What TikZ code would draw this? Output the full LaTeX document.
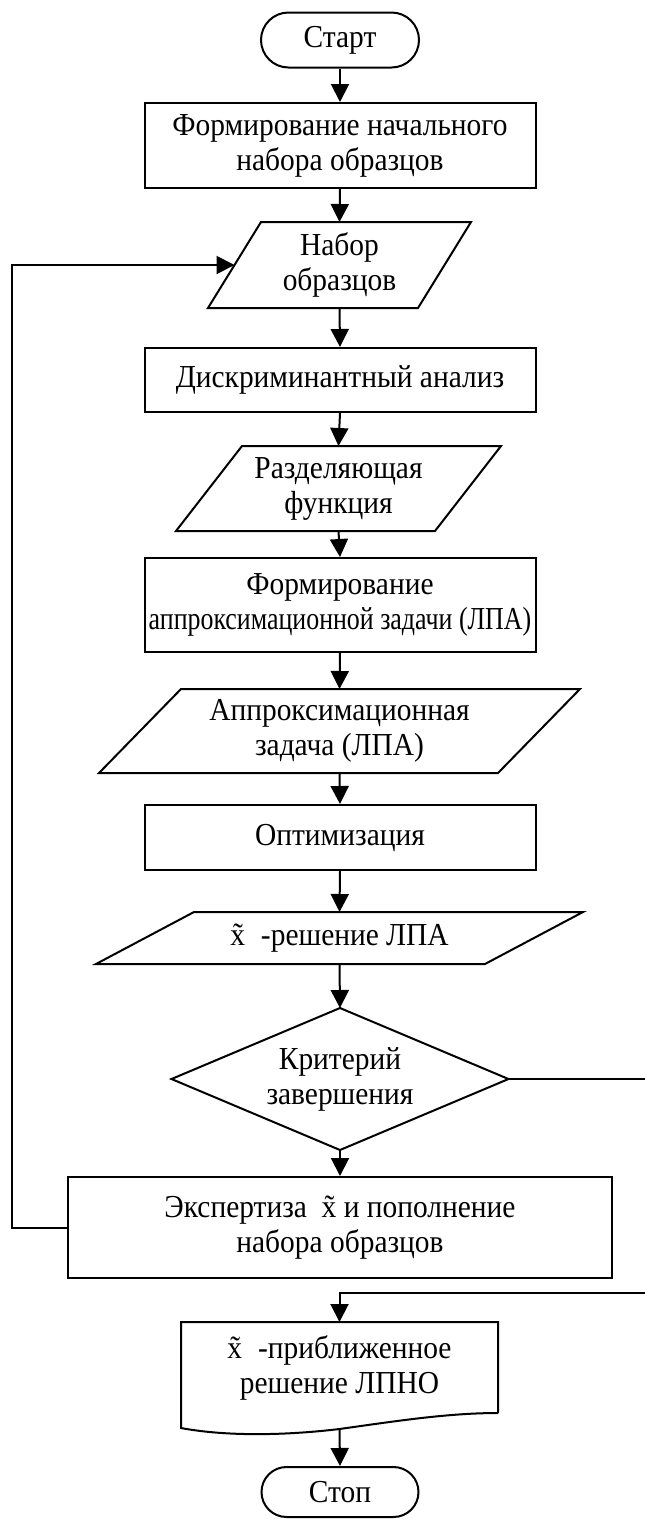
\documentclass[tikz,border=0pt]{standalone}
\usepackage{fontspec}
\setmainfont{Liberation Serif}[FakeStretch=0.92]
\usetikzlibrary{arrows.meta,calc}
\begin{document}
\begin{tikzpicture}[x=1pt,y=-1pt,line width=2pt,
  every node/.style={font=\fontsize{32}{35}\selectfont,align=center,inner sep=0pt},
  proc/.style={draw,rectangle,minimum width=391pt},
  term/.style={draw,rectangle},
  io/.style={rectangle,draw=none},
  arr/.style={-{Triangle[length=18pt,width=18pt]}}]
\useasboundingbox (0,0) rectangle (645,1519);
% nodes
\node[term,minimum width=158pt,minimum height=55pt,rounded corners=27.5pt] (start) at (340,40) {Старт};
\node[proc,minimum height=85pt] (b1) at (340,145.5) {Формирование начального\\набора образцов};
\node[io,minimum width=261pt,minimum height=84pt] (p1) at (339.5,265) {Набор\\образцов};
\draw ([xshift=53pt]p1.north west) -- (p1.north east) -- ([xshift=-53pt]p1.south east) -- (p1.south west) -- cycle;
\node[proc,minimum height=64pt] (b2) at (340,380) {Дискриминантный анализ};
\node[io,minimum width=323pt,minimum height=83pt] (p2) at (338.5,488.5) {Разделяющая\\функция};
\draw ([xshift=66pt]p2.north west) -- (p2.north east) -- ([xshift=-66pt]p2.south east) -- (p2.south west) -- cycle;
\node[proc,minimum height=94pt] (b3) at (340,605) {Формирование\\\scalebox{0.88}[1]{аппроксимационной задачи (ЛПА)}};
\node[io,minimum width=479pt,minimum height=82pt] (p3) at (339.5,731) {Аппроксимационная\\задача (ЛПА)};
\draw ([xshift=82pt]p3.north west) -- (p3.north east) -- ([xshift=-82pt]p3.south east) -- (p3.south west) -- cycle;
\node[proc,minimum height=65pt] (b4) at (340,837.5) {Оптимизация};
\node[io,minimum width=485pt,minimum height=50pt] (p4) at (339.5,938) {\~x\enspace-решение ЛПА};
\draw ([xshift=98pt]p4.north west) -- (p4.north east) -- ([xshift=-98pt]p4.south east) -- (p4.south west) -- cycle;
\node[io,minimum width=335pt,minimum height=140pt] (dia) at (340,1079) {Критерий\\завершения};
\draw (dia.north) -- (dia.east) -- (dia.south) -- (dia.west) -- cycle;
\node[proc,minimum width=544pt,minimum height=101pt] (b5) at (340,1227.5) {Экспертиза \ \~x и пополнение\\набора образцов};
\node[io,minimum width=315pt,minimum height=89pt] (doc) at (339.5,1367.5) {\~x\enspace-приближенное\\решение ЛПНО};
\draw (doc.south east) -- (doc.north east) -- (doc.north west) -- ($(doc.south west)+(0,15)$)
  .. controls +(48,9) and +(-50,6) .. ($(doc.south)+(0,16)$)
  .. controls +(57,-8) and +(-50,0) .. (doc.south east);
\coordinate (docb) at ($(doc.south)+(0,16)$);
\node[term,minimum width=157pt,minimum height=50pt,rounded corners=25pt] (stop) at (340,1492) {Стоп};
% connectors
\draw[arr] (start.south) -- (b1.north);
\draw[arr] (b1.south) -- (p1.north);
\draw[arr] (p1.south) -- (b2.north);
\draw[arr] (b2.south) -- (p2.north);
\draw[arr] (p2.south) -- (b3.north);
\draw[arr] (b3.south) -- (p3.north);
\draw[arr] (p3.south) -- (b4.north);
\draw[arr] (b4.south) -- (p4.north);
\draw[arr] (p4.south) -- (dia.north);
\draw[arr] (dia.south) -- (b5.north);
\coordinate (p1in) at ($([xshift=53pt]p1.north west)!0.5!(p1.south west)$);
\coordinate (lp) at (12,265);
\draw[arr] (b5.west) -| (lp) -- (p1in);
\coordinate (rr) at (652,1293);
\draw[arr] (dia.east) -| (rr) -| (doc.north);
\draw[arr] (docb) -- (stop.north);
\end{tikzpicture}
\end{document}
